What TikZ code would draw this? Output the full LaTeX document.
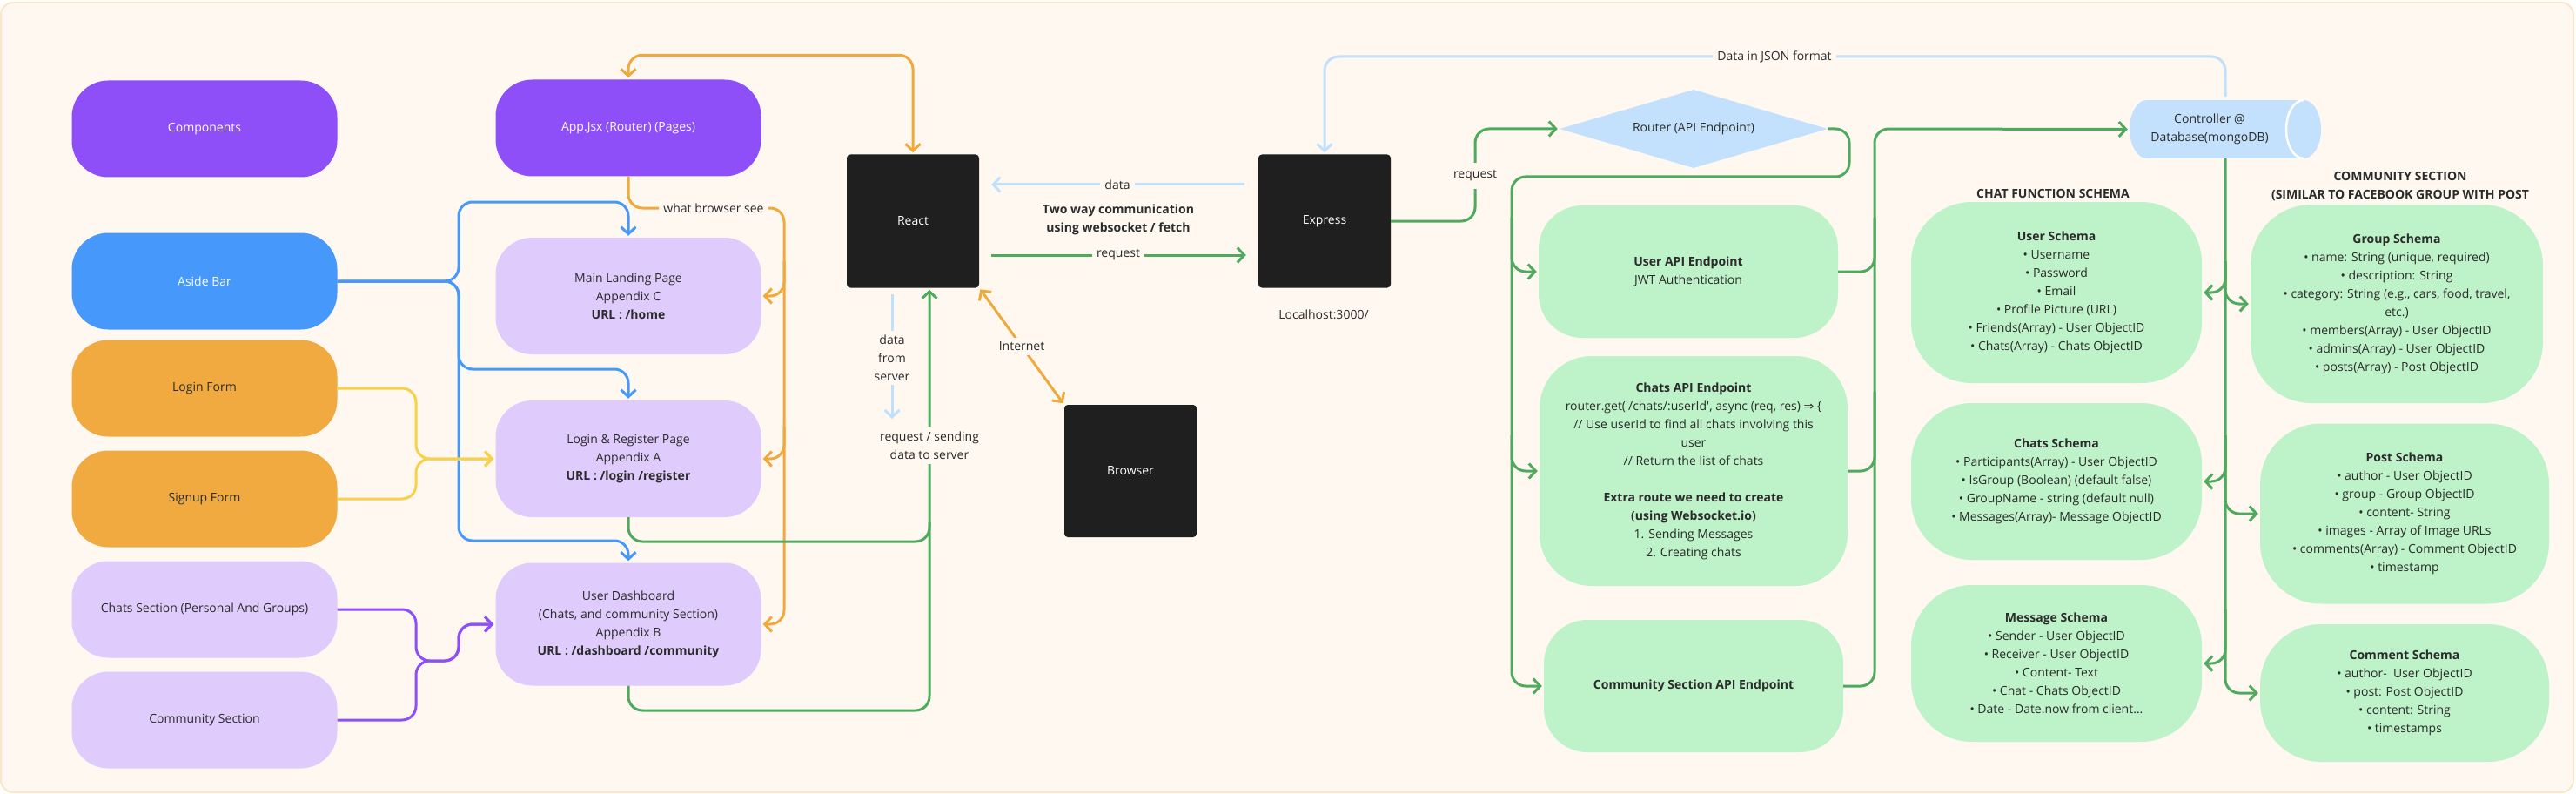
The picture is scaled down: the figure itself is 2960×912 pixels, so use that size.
\documentclass[tikz,border=0pt]{standalone}
\usepackage{fontspec}
\setmainfont{Open Sans}
\newfontfamily\symf{DejaVu Sans}
\usetikzlibrary{arrows.meta,shapes.geometric,calc}
\definecolor{bg}{HTML}{FEF8F1}
\definecolor{frameb}{HTML}{F9E7CC}
\definecolor{dpurple}{HTML}{8E4FF8}
\definecolor{lpurple}{HTML}{DFCCFC}
\definecolor{blueb}{HTML}{4698FA}
\definecolor{orangeb}{HTML}{F1AA3F}
\definecolor{greenb}{HTML}{BEF2C9}
\definecolor{lblue}{HTML}{C3E1FC}
\definecolor{darkb}{HTML}{1F1F1F}
\definecolor{txt}{HTML}{2B2B2B}
\definecolor{cOrange}{HTML}{F2A93B}
\definecolor{cBlue}{HTML}{4698FA}
\definecolor{cYellow}{HTML}{F7D14A}
\definecolor{cPurple}{HTML}{8E4FF8}
\definecolor{cGreen}{HTML}{4FAA5E}
\definecolor{cLblue}{HTML}{C0E0FC}
\newcommand\bl{\textbullet\ }
\begin{document}
\begin{tikzpicture}[x=1pt,y=-1pt,
  font=\fontsize{14pt}{21pt}\selectfont,
  every node/.style={text=txt},
  sbox/.style={rounded corners=42pt, minimum width=305pt, minimum height=111pt, align=center, inner sep=0pt},
  dbox/.style={fill=darkb, rounded corners=4pt, minimum width=152pt, minimum height=153pt, text=white, inner sep=0pt},
  gbox/.style={fill=greenb, align=center, inner sep=0pt},
  conn/.style={line width=3pt, rounded corners=16pt},
  arr/.style={-{Straight Barb[length=8pt,width=17pt]}, shorten >=2pt},
  barr/.style={{Straight Barb[length=8pt,width=17pt]}-{Straight Barb[length=8pt,width=17pt]}, shorten >=2pt, shorten <=2pt},
  lab/.style={fill=bg, inner sep=5pt, align=center},
  hdr/.style={font=\fontsize{14pt}{21pt}\selectfont\bfseries, align=center},
]
\useasboundingbox (0,0) rectangle (2960,912);
\fill[white] (0,0) rectangle (2960,912);
\draw[fill=bg, draw=frameb, line width=2pt, rounded corners=14pt] (1,3) rectangle (2957,910);

% ---------- left column ----------
\node[sbox, fill=dpurple, text=white] (comp) at (235,148) {Components};
\node[sbox, fill=dpurple, text=white] (app) at (722,147) {App.Jsx (Router) (Pages)};
\node[sbox, fill=blueb, text=white] (aside) at (235,323) {Aside Bar};
\node[sbox, fill=lpurple, minimum height=134pt] (landing) at (722,340) {Main Landing Page\\Appendix C\\\textbf{URL : /home}};
\node[sbox, fill=orangeb] (loginf) at (235,446) {Login Form};
\node[sbox, fill=orangeb] (signup) at (235,573) {Signup Form};
\node[sbox, fill=lpurple, minimum height=134pt] (logreg) at (722,527) {Login \& Register Page\\Appendix A\\\textbf{URL : /login /register}};
\node[sbox, fill=lpurple] (chatsec) at (235,700) {Chats Section (Personal And Groups)};
\node[sbox, fill=lpurple] (commsec) at (235,827) {Community Section};
\node[sbox, fill=lpurple, minimum height=141pt] (dash) at (722,717) {User Dashboard\\(Chats, and community Section)\\Appendix B\\\textbf{URL : /dashboard /community}};

% ---------- middle ----------
\node[dbox] (react) at (1049,254) {React};
\node[dbox] (express) at (1522,254) {Express};
\node[dbox, minimum height=152pt] (browser) at (1299,541) {Browser};
\node[hdr] (twoway) at (1285,252) {Two way communication\\using websocket / fetch};
\node (localhost) at (1521,361) {Localhost:3000/};

% ---------- router / controller ----------
\node[diamond, fill=lblue, minimum width=308pt, minimum height=90pt, inner sep=0pt, aspect=3.4] (router) at (1946,148) {Router (API Endpoint)};
\node[minimum width=220pt, minimum height=67pt, inner sep=0pt] (ctrl) at (2557,148.5) {};
\fill[lblue] (2467,148.5) ellipse[x radius=20, y radius=33.5];
\fill[lblue] (2467,115) rectangle (2647,182);
\fill[lblue] (2647,148.5) ellipse[x radius=20, y radius=33.5];
\draw[white, line width=2.5pt] (2647,115) arc[start angle=-90, end angle=-270, x radius=20, y radius=33.5];
\node[align=center] (ctrltext) at (2539,148.5) {Controller @\\Database(mongoDB)};

% ---------- API endpoints ----------
\node[gbox, rounded corners=50pt, minimum width=344pt, minimum height=152pt] (userapi) at (1940,312) {\textbf{User API Endpoint}\\JWT Authentication};
\node[gbox, rounded corners=60pt, minimum width=354pt, minimum height=264pt] (chatsapi) at (1946,541) {\textbf{Chats API Endpoint}\\router.get(\textquotesingle/chats/:userId\textquotesingle, async (req, res) {\symf ⇒} \{\\// Use userId to find all chats involving this\\user\\// Return the list of chats\\[21pt]\textbf{Extra route we need to create}\\\textbf{(using Websocket.io)}\\1. Sending Messages\\2. Creating chats};
\node[gbox, rounded corners=50pt, minimum width=344pt, minimum height=152pt] (commapi) at (1946,788) {\textbf{Community Section API Endpoint}};

% ---------- schemas ----------
\node[hdr] (chathdr) at (2359,222) {CHAT FUNCTION SCHEMA};
\node[hdr] (commhdr) at (2758,214.5) {COMMUNITY SECTION\\(SIMILAR TO FACEBOOK GROUP WITH POST};
\node[gbox, rounded corners=70pt, minimum width=334pt, minimum height=208pt] (userschema) at (2363,336) {\textbf{User Schema}\\\bl Username\\\bl Password\\\bl Email\\\bl Profile Picture (URL)\\\bl Friends(Array) - User ObjectID\\\bl Chats(Array) - Chats ObjectID};
\node[gbox, rounded corners=70pt, minimum width=334pt, minimum height=180pt] (chatsschema) at (2363,553) {\textbf{Chats Schema}\\\bl Participants(Array) - User ObjectID\\\bl IsGroup (Boolean) (default false)\\\bl GroupName - string (default null)\\\bl Messages(Array)- Message ObjectID};
\node[gbox, rounded corners=70pt, minimum width=334pt, minimum height=180pt] (msgschema) at (2363,762) {\textbf{Message Schema}\\\bl Sender - User ObjectID\\\bl Receiver - User ObjectID\\\bl Content- Text\\\bl Chat - Chats ObjectID\\\bl Date - Date.now from client...};
\node[gbox, rounded corners=70pt, minimum width=336pt, minimum height=228pt] (groupschema) at (2754,349) {\textbf{Group Schema}\\\bl name: String (unique, required)\\\bl description: String\\\bl category: String (e.g., cars, food, travel,\\etc.)\\\bl members(Array) - User ObjectID\\\bl admins(Array) - User ObjectID\\\bl posts(Array) - Post ObjectID};
\node[gbox, rounded corners=70pt, minimum width=332pt, minimum height=207pt] (postschema) at (2763,590) {\textbf{Post Schema}\\\bl author - User ObjectID\\\bl group - Group ObjectID\\\bl content- String\\\bl images - Array of Image URLs\\\bl comments(Array) - Comment ObjectID\\\bl timestamp};
\node[gbox, rounded corners=70pt, minimum width=332pt, minimum height=158pt] (commentschema) at (2763,796) {\textbf{Comment Schema}\\\bl author-\ \ User ObjectID\\\bl post: Post ObjectID\\\bl content: String\\\bl timestamps};

% ---------- connectors: left ----------
\node[lab, inner sep=0pt, inner xsep=5pt] (wbs) at (820,239) {what browser see};
\draw[conn, cOrange, barr] (app.north) -- ++(0,-28) -| (react.north);
\draw[conn, cOrange] (app.south) |- (wbs.west);
\draw[conn, cOrange, arr] (wbs.east) -- (901,239) -- (901,717) -- (dash.east);
\coordinate (oj1) at (901,300);
\coordinate (oj2) at (901,490);
\draw[conn, cOrange, arr] (oj1) -- (901,340) -- (landing.east);
\draw[conn, cOrange, arr] (oj2) -- (901,527) -- (logreg.east);

\draw[conn, cBlue, arr] (aside.east) -- (527,323) -- (527,232) -- (722,232) -- (landing.north);
\draw[conn, cBlue, arr] (aside.east) -- (527,323) -- (527,424) -- (722,424) -- (logreg.north);
\draw[conn, cBlue, arr] (aside.east) -- (527,323) -- (527,621) -- (722,621) -- (dash.north);

\draw[conn, cYellow, arr] (loginf.east) -- (478,446) -- (478,527) -- (logreg.west);
\draw[conn, cYellow, arr] (signup.east) -- (478,573) -- (478,527) -- (logreg.west);

\draw[conn, cPurple, arr] (chatsec.east) -- (478,700) -- (478,759) -- (527,759) -- (527,717) -- (dash.west);
\draw[conn, cPurple, arr] (commsec.east) -- (478,827) -- (478,759) -- (527,759) -- (527,717) -- (dash.west);

% ---------- connectors: middle ----------
\draw[conn, cGreen, arr] (logreg.south) -- (722,622) -- (1068,622) -- ($(react.south)+(19,0)$);
\draw[conn, cGreen] (dash.south) -- (722,816) -- (1068,816) -- (1068,600);
\node[lab] (reqsend) at (1068,512) {request / sending\\data to server};

\coordinate (dfs) at (1025,483);
\draw[line width=3pt, cLblue, arr] ($(react.south)+(-24,7)$) -- (dfs);
\node[lab] (dfslab) at (1025,411) {data\\from\\server};

\draw[line width=3pt, cOrange, barr] (react.south east) -- (browser.north west);
\node[lab] (internet) at ($(react.south east)!0.5!(browser.north west)$) {Internet};

\draw[line width=3pt, cLblue, arr] ($(express.west)+(-16,-42)$) -- ($(react.east)+(12,-42)$);
\node[lab] (datalab) at (1284,212) {data};
\draw[line width=3pt, cGreen, arr] ($(react.east)+(14,39)$) -- ($(express.west)+(-12,39)$);
\node[lab] (reqlab) at (1285,293) {request};

\draw[conn, cGreen, arr] (express.east) -- (1695,254) -- (1695,148) -- (router.west);
\node[lab, inner ysep=9pt] (reqlab2) at (1695,202) {request};

\draw[conn, cLblue, arr, shorten <=4pt] (ctrl.north) -- (2557,65) -- (1522,65) -- (express.north);
\node[lab] (jsonlab) at (2039,65) {Data in JSON format};

% ---------- connectors: right ----------
\draw[conn, cGreen, arr] (router.east) -- (2125,148) -- (2125,203) -- (1737,203) -- (1737,312) -- (userapi.west);
\coordinate (gj1) at (1737,250);
\coordinate (gj2) at (1737,500);
\draw[conn, cGreen, arr] (gj1) -- (1737,541) -- (chatsapi.west);
\draw[conn, cGreen, arr] (gj2) -- (1737,788) -- (commapi.west);

\draw[conn, cGreen, arr] (commapi.east) -- (2154,788) -- (2154,148) -- (ctrl.west);
\draw[conn, cGreen] (userapi.east) -- (2154,312) -- (2154,250);
\draw[conn, cGreen] (chatsapi.east) -- (2154,541) -- (2154,450);

\coordinate (sj1) at (2557,300);
\coordinate (sj2) at (2557,500);
\coordinate (sj3) at (2557,700);
\draw[conn, cGreen, arr] (ctrl.south) -- (2557,796) -- (commentschema.west);
\draw[conn, cGreen, arr] (sj1) -- (2557,336) -- (userschema.east);
\draw[conn, cGreen, arr] (sj1) -- (2557,349) -- (groupschema.west);
\draw[conn, cGreen, arr] (sj2) -- (2557,553) -- (chatsschema.east);
\draw[conn, cGreen, arr] (sj2) -- (2557,590) -- (postschema.west);
\draw[conn, cGreen, arr] (sj3) -- (2557,762) -- (msgschema.east);
\end{tikzpicture}
\end{document}
